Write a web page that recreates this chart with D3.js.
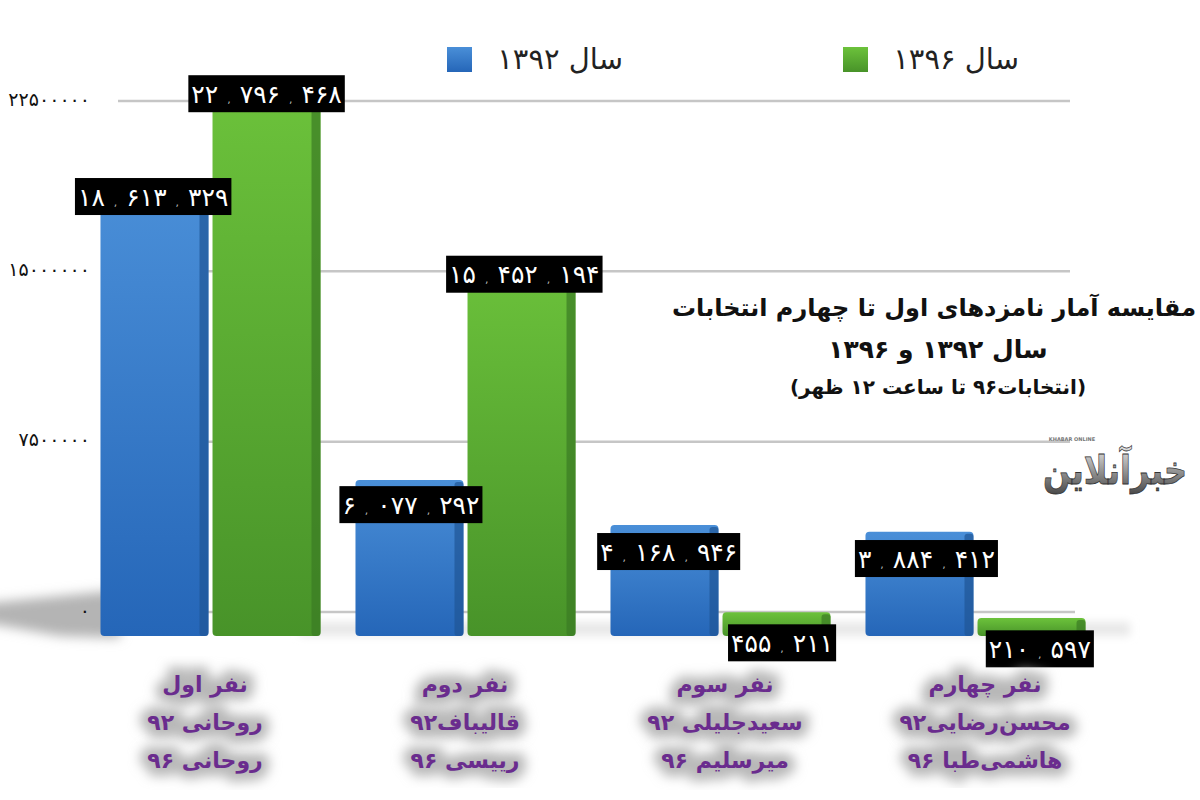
<!DOCTYPE html>
<html lang="fa">
<head>
<meta charset="utf-8">
<script src="https://cdn.jsdelivr.net/npm/d3@7"></script>
<style>
  body { margin: 0; background: #fff; }
  text { font-family: "DejaVu Sans", sans-serif; }
</style>
</head>
<body>
<div id="chart"></div>
<script>
var ranks = ["نفر اول", "نفر دوم", "نفر سوم", "نفر چهارم"];
var names92 = ["روحانی ۹۲", "قالیباف۹۲", "سعیدجلیلی ۹۲", "محسن‌رضایی۹۲"];
var names96 = ["روحانی ۹۶", "رییسی ۹۶", "میرسلیم ۹۶", "هاشمی‌طبا ۹۶"];
var votes1392 = [18613329, 6077292, 4168946, 3884412];
var votes1396 = [22796468, 15452194, 455211, 210597];
var tickValues = [0, 7500000, 15000000, 22500000];
var seriesNames = ["سال ۱۳۹۲", "سال ۱۳۹۶"];
var titleLines = ["مقایسه آمار نامزدهای اول تا چهارم انتخابات", "سال ۱۳۹۲ و ۱۳۹۶", "(انتخابات۹۶ تا ساعت ۱۲ ظهر)"];

var w = 1200;
var h = 800;
var baseY = 636;

function faDigits(s) {
  return String(s).replace(/[0-9]/g, function(c) { return "۰۱۲۳۴۵۶۷۸۹"[+c]; });
}

var svg = d3.select("#chart").append("svg")
  .attr("width", w)
  .attr("height", h)
  .style("display", "block");

var defs = svg.append("defs");

function addGradient(id, top, bottom) {
  var g = defs.append("linearGradient").attr("id", id)
    .attr("x1", 0).attr("y1", 0).attr("x2", 0).attr("y2", 1);
  g.append("stop").attr("offset", "0%").attr("stop-color", top);
  g.append("stop").attr("offset", "100%").attr("stop-color", bottom);
}
addGradient("blueFill", "#4a8fd8", "#2566b8");
addGradient("greenFill", "#6cc23b", "#489329");
addGradient("logoFill", "#e8e8e8", "#4a4a4a");

function addBlur(id, amount) {
  defs.append("filter").attr("id", id)
    .attr("x", "-30%").attr("y", "-60%").attr("width", "160%").attr("height", "220%")
    .append("feGaussianBlur").attr("stdDeviation", amount);
}
addBlur("blur6", 6);
addBlur("blur4", 4);

// back wall scale, the gridlines and tick labels use this one
var y = d3.scaleLinear().domain([0, 22500000]).range([612, 101]);
// bars stand in front of the wall so they run on their own perspective scale
var barY = d3.scaleLinear().domain([0, 22500000]).range([623, 94]);
var labelY = d3.scaleLinear().domain([0, 22500000]).range([654, 101]);

var x0 = d3.scaleBand().domain(d3.range(ranks.length)).range([83, 1103]);
var x1 = d3.scaleBand().domain([0, 1]).range([0, x0.bandwidth()]).paddingInner(0.036).paddingOuter(0.156);
var labelX = d3.scaleBand().domain(d3.range(ranks.length)).range([81, 1112]);
var captionX = d3.scaleBand().domain(d3.range(ranks.length)).range([75, 1115]);

// floor shadow left of the first bar
svg.append("path")
  .attr("d", d3.line()([[-20, 604], [120, 590], [120, 638], [60, 636], [-20, 622]]))
  .attr("fill", "#b4b4b4")
  .attr("filter", "url(#blur6)");
svg.append("rect")
  .attr("x", 300).attr("y", 622).attr("width", 830).attr("height", 14)
  .attr("fill", "#e8e8e8")
  .attr("filter", "url(#blur4)");

// gridlines
svg.append("g").selectAll("line")
  .data(tickValues)
  .enter()
  .append("line")
  .attr("x1", 118)
  .attr("x2", function(d) { return d === 0 ? 1075 : 1070; })
  .attr("y1", function(d) { return y(d); })
  .attr("y2", function(d) { return y(d); })
  .attr("stroke", "#c6c6c6")
  .attr("stroke-width", 2.5);

var axis = d3.axisLeft(y)
  .tickValues(tickValues)
  .tickSize(0)
  .tickPadding(0)
  .tickFormat(function(d) { return faDigits(d); });

var axisG = svg.append("g")
  .attr("transform", "translate(90,-2)")
  .call(axis);
axisG.select(".domain").remove();
axisG.selectAll("text")
  .style("font-family", "'DejaVu Sans', sans-serif")
  .style("font-size", "19px")
  .style("letter-spacing", "2.4px")
  .attr("fill", "#111");

// one row per bar
var rows = [];
ranks.forEach(function(r, i) {
  rows.push({ group: i, series: 0, value: votes1392[i] });
  rows.push({ group: i, series: 1, value: votes1396[i] });
});

var barX = function(d) { return x0(d.group) + x1(d.series); };
var barW = x1.bandwidth();

var bars = svg.append("g").selectAll("g")
  .data(rows)
  .enter()
  .append("g");

bars.append("rect")
  .attr("x", barX)
  .attr("y", function(d) { return barY(d.value); })
  .attr("width", barW)
  .attr("height", function(d) { return baseY - barY(d.value); })
  .attr("rx", 4)
  .attr("fill", function(d) { return d.series === 0 ? "url(#blueFill)" : "url(#greenFill)"; });

// darker right side of each bar
bars.append("rect")
  .attr("x", function(d) { return barX(d) + barW - 9; })
  .attr("y", function(d) { return barY(d.value) + 2; })
  .attr("width", 9)
  .attr("height", function(d) { return baseY - barY(d.value) - 2; })
  .attr("rx", 3)
  .attr("fill", function(d) { return d.series === 0 ? "#1f5596" : "#3b7a24"; })
  .attr("opacity", 0.7);

// value boxes
var valueLabels = svg.append("g").selectAll("g")
  .data(rows)
  .enter()
  .append("g")
  .attr("transform", function(d) {
    return "translate(" + (labelX(d.group) + labelX.bandwidth() * (d.series === 0 ? 0.28 : 0.72)) + "," + labelY(d.value) + ")";
  });

valueLabels.append("rect").attr("fill", "#000");

var valueText = valueLabels.append("text")
  .attr("direction", "ltr")
  .attr("text-anchor", "middle")
  .attr("dy", "0.36em")
  .attr("fill", "#fff")
  .style("font-size", "25px");

// digit groups at full size, the commas between them tiny
valueText.each(function(d) {
  var t = d3.select(this);
  d3.format(",")(d.value).split(",").forEach(function(part, i) {
    if (i > 0) {
      t.append("tspan").text("\u2002\u00a0,\u2002\u00a0").style("font-size", "11px").attr("fill", "#bbb");
    }
    t.append("tspan").text(faDigits(part));
  });
});

valueLabels.each(function() {
  var g = d3.select(this);
  var tw = g.select("text").node().getComputedTextLength() + 6;
  g.select("rect")
    .attr("x", -tw / 2)
    .attr("y", -18.5)
    .attr("width", tw)
    .attr("height", 37);
});

// category captions
var captions = svg.append("g").selectAll("g")
  .data(ranks)
  .enter()
  .append("g")
  .attr("transform", function(d, i) { return "translate(" + (captionX(i) + captionX.bandwidth() / 2) + ",0)"; });

[0, 1, 2].forEach(function(line) {
  // soft grey glow behind the text
  captions.append("text")
    .text(function(d, i) { return [ranks, names92, names96][line][i]; })
    .attr("y", 692 + line * 38)
    .attr("text-anchor", "middle")
    .attr("fill", "#b8b8b8")
    .attr("stroke", "#b8b8b8")
    .attr("stroke-width", 16)
    .attr("filter", "url(#blur6)")
    .style("font-size", "22px")
    .style("font-weight", "bold");
});

[0, 1, 2].forEach(function(line) {
  captions.append("text")
    .text(function(d, i) { return [ranks, names92, names96][line][i]; })
    .attr("y", 692 + line * 38)
    .attr("text-anchor", "middle")
    .attr("fill", "#6a2c8e")
    .style("font-size", "22px")
    .style("font-weight", "bold");
});

// legend
var legendX = d3.scaleOrdinal().domain([0, 1]).range([447, 843]);
var legend = svg.append("g").selectAll("g")
  .data(seriesNames)
  .enter()
  .append("g")
  .attr("transform", function(d, i) { return "translate(" + legendX(i) + ",47)"; });

legend.append("rect")
  .attr("width", 25)
  .attr("height", 25)
  .attr("fill", function(d, i) { return i === 0 ? "url(#blueFill)" : "url(#greenFill)"; });

legend.append("text")
  .text(function(d) { return d; })
  .attr("x", 176)
  .attr("y", 22)
  .attr("text-anchor", "end")
  .attr("fill", "#222")
  .style("font-size", "29px");

// title block
var titleSizes = [24, 25, 20];
var titleY = [316, 358, 394];
svg.append("g").selectAll("text")
  .data(titleLines)
  .enter()
  .append("text")
  .text(function(d) { return d; })
  .attr("x", function(d, i) { return i === 0 ? 934 : 938; })
  .attr("y", function(d, i) { return titleY[i]; })
  .attr("text-anchor", "middle")
  .attr("fill", "#111")
  .style("font-size", function(d, i) { return titleSizes[i] + "px"; })
  .style("font-weight", "bold");

// publisher mark
svg.append("text")
  .text("خبرآنلاین")
  .attr("transform", "translate(1115,484) scale(1,1.25)")
  .attr("text-anchor", "middle")
  .attr("fill", "url(#logoFill)")
  .attr("stroke", "#333")
  .attr("stroke-width", 0.6)
  .style("font-size", "32px")
  .style("font-weight", "bold");
svg.append("text")
  .text("KHABAR ONLINE")
  .attr("x", 1072)
  .attr("y", 441)
  .attr("text-anchor", "middle")
  .attr("fill", "#777")
  .style("font-size", "5px")
  .style("font-weight", "bold");
</script>
</body>
</html>
